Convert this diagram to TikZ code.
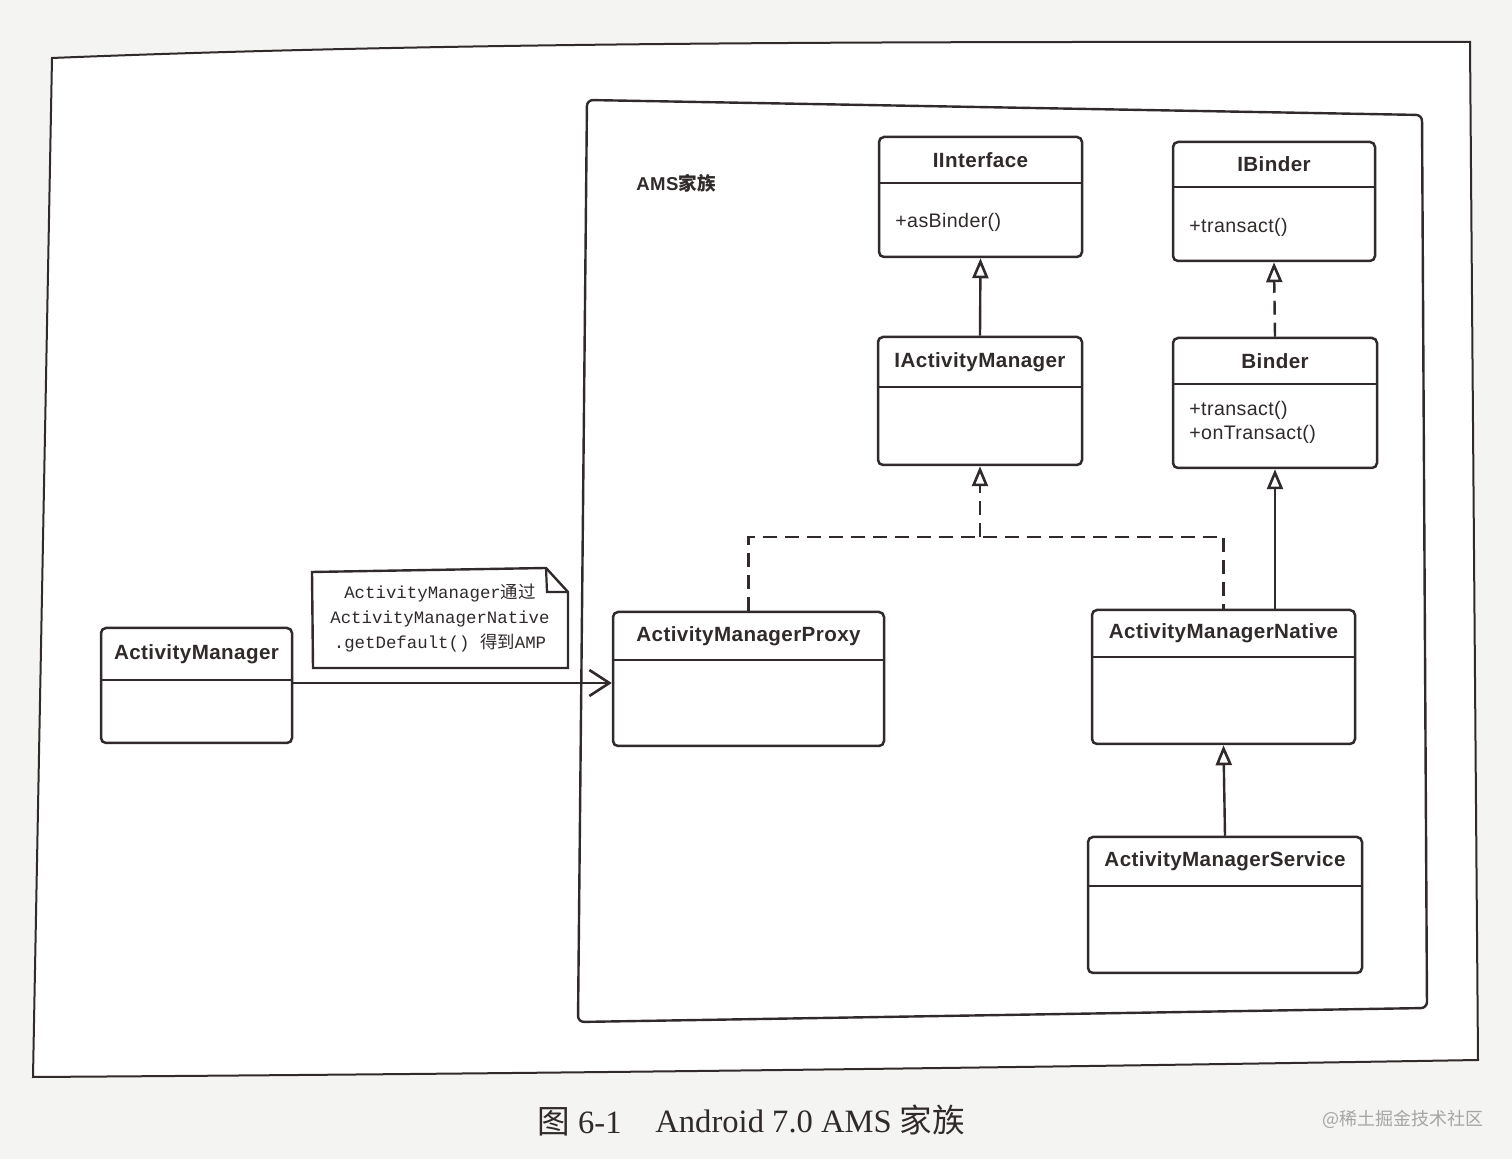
\documentclass[tikz,border=0pt]{standalone}
\usepackage{fontspec}
\setmainfont{Liberation Serif}
\newfontfamily\clsfont{Liberation Sans}[LetterSpace=2]
\newfontfamily\cjk{Noto Sans CJK SC}
\newfontfamily\monofont{Liberation Mono}
\usetikzlibrary{arrows.meta,fit}
\definecolor{ink}{RGB}{48,42,42}
\definecolor{paper}{RGB}{244,244,242}
\definecolor{wm}{RGB}{165,165,165}

\tikzset{
  classbox/.style={draw=ink, line width=1.25pt, rounded corners=2.5pt, inner sep=0pt, fill=white},
  classtitle/.style={font=\clsfont\bfseries\fontsize{10.3}{12}\selectfont, text=ink, inner sep=0pt},
  member/.style={font=\clsfont\fontsize{9.8}{12}\selectfont, text=ink, inner sep=0pt, align=left},
  divider/.style={draw=ink, line width=1.25pt},
  gen/.style={draw=ink, line width=1.2pt, -{Triangle[open, length=10pt, width=8pt, line width=1.3pt]}},
  realize/.style={draw=ink, line width=1.2pt, dash pattern=on 7pt off 4pt},
  assoc/.style={draw=ink, line width=1.2pt, -{Straight Barb[length=10pt, width=13pt, line width=1.3pt]}},
  frame/.style={draw=ink, line width=1pt},
  notebox/.style={draw=ink, line width=1.2pt, fill=white},
  notetext/.style={font=\monofont\fontsize{8.7}{12.3}\selectfont, text=ink, align=center, inner sep=0pt},
  captext/.style={font=\fontsize{16.3}{19}\selectfont, text=ink, anchor=west, inner sep=0pt},
}

% name, x1, y1, x2, y2, ydivider, title
\newcommand\umlclass[7]{%
  \node[classbox, fit={(#2,#3) (#4,#5)}] (#1) {};
  \draw[divider] (#2,#6) -- (#4,#6);
  \node[classtitle] (#1-title) at ({(#2+#4)/2},{(#3+#6)/2}) {#7};
}

\begin{document}
\begin{tikzpicture}[x=0.5pt, y=-0.5pt]
  \useasboundingbox (0,0) rectangle (1512,1159);
  \fill[paper] (0,0) rectangle (1512,1159);

  % outer page frame
  \draw[frame, fill=white] (52,58) .. controls (500,40) and (1000,42) .. (1470,42)
      -- (1478,1060) .. controls (1000,1068) and (500,1074) .. (33,1077) -- cycle;

  % AMS family frame
  \draw[frame, line width=1.2pt, rounded corners=3pt] (587,100) -- (1422,115) -- (1427,1008) -- (578,1022) -- cycle;
  \node[font=\clsfont\bfseries\fontsize{9.3}{11}\selectfont, text=ink, anchor=west, inner sep=0pt] (amslabel) at (636,183) {AMS{\cjk\bfseries 家族}};

  % classes
  \umlclass{iint}{879}{137}{1082}{257}{183}{IInterface}
  \node[member, anchor=west] (iint-m) at (895,222) {+asBinder()};

  \umlclass{ibinder}{1173}{142}{1375}{261}{187}{IBinder}
  \node[member, anchor=west] (ibinder-m) at (1189,227) {+transact()};

  \umlclass{iam}{878}{337}{1082}{465}{387}{IActivityManager}

  \umlclass{binder}{1173}{338}{1377}{468}{384}{Binder}
  \node[member, anchor=north west] (binder-m) at (1189,401) {+transact()\\+onTransact()};

  \umlclass{proxy}{613}{612}{884}{746}{660}{ActivityManagerProxy}
  \umlclass{native}{1092}{610}{1355}{744}{657}{ActivityManagerNative}
  \umlclass{service}{1088}{837}{1362}{973}{886}{ActivityManagerService}
  \umlclass{am}{101}{628}{292}{743}{680}{ActivityManager}

  % note
  \draw[notebox] (312,572) -- (546,568) -- (568,592) -- (568,668) -- (313,668) -- cycle;
  \draw[draw=ink, line width=1.1pt] (546,568) -- (547,592) -- (568,592);
  \node[notetext] (note) at (440,618) {ActivityManager{\cjk 通过}\\ActivityManagerNative\\.getDefault()\ {\cjk 得到}AMP};

  % connectors
  \draw[gen] (iam.north) -- (iint.south);
  \draw[gen, dash pattern=on 7pt off 4pt] (binder.north) -- (ibinder.south);
  \coordinate (join) at (980,537);
  \draw[realize] (proxy.north) |- (join) -| (native.north);
  \draw[gen, dash pattern=on 7pt off 4pt] (join) -- (iam.south);
  \draw[gen] (native.north -| binder.south) -- (binder.south);
  \draw[gen] (service.north) -- (native.south);
  \draw[assoc] (am.east |- 0,683) -- (proxy.west |- 0,683);

  % caption
  \node[captext] (cap1) at (537,1122) {{\cjk 图} 6-1};
  \node[captext] (cap2) at (655,1120) {Android 7.0 AMS {\cjk 家族}};

  % watermark
  \node[font=\cjk\fontsize{9}{11}\selectfont, text=wm, anchor=west, inner sep=0pt] (wmark) at (1322,1119) {@稀土掘金技术社区};
\end{tikzpicture}
\end{document}
